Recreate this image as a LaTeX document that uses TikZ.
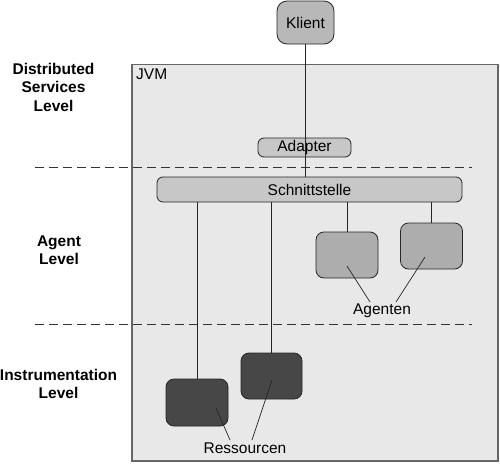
\documentclass[tikz,border=0pt]{standalone}
\usepackage{fontspec}
\setmainfont{Liberation Sans}
\begin{document}
\begin{tikzpicture}[x=1pt,y=-1pt,
  every node/.style={font=\fontsize{15.5}{18}\selectfont},
  rbox/.style={draw=black!85, line width=0.8pt, rounded corners=8pt, inner sep=0pt},
  agentbox/.style={rbox, fill=black!32},
  resbox/.style={rbox, fill=black!72},
  bar/.style={draw=black!85, line width=0.8pt, rounded corners=6pt, fill=black!22, inner sep=0pt},
  conn/.style={draw=black!85, line width=0.7pt},
  sep/.style={draw=black!80, line width=0.8pt, dash pattern=on 9pt off 5pt},
  lvl/.style={font=\bfseries\fontsize{15.5}{18.5}\selectfont, align=center}
]
\useasboundingbox (0,0) rectangle (500,463);
% JVM box
\draw[draw=black!60, line width=1.6pt, fill=black!9] (132,64.5) rectangle (498,461);
\node[anchor=north west, inner sep=0pt] (jvm) at (136,69) {JVM};
% separators
\coordinate (s1a) at (35,167.5); \coordinate (s1b) at (472,167.5);
\coordinate (s2a) at (35,324.5); \coordinate (s2b) at (472,324.5);
\draw[sep] (s1a) -- (s1b);
\draw[sep] (s2a) -- (s2b);
% level labels
\node[lvl] (l1) at (53.5,87) {Distributed\\Services\\Level};
\node[lvl] (l2) at (59,250) {Agent\\Level};
\node[lvl] (l3) at (58.5,384) {Instrumentation\\Level};
% nodes
\node[rbox, fill=black!28, minimum width=57pt, minimum height=43pt, rounded corners=10pt] (klient) at (305.5,22.5) {Klient};
\node[bar, minimum width=93pt, minimum height=19pt] (adapter) at (304.5,147.5) {Adapter};
\node[bar, minimum width=305pt, minimum height=25pt] (schnitt) at (309.5,189.5) {Schnittstelle};
\node[agentbox, minimum width=62pt, minimum height=46pt] (ag1) at (347,255) {};
\node[agentbox, minimum width=62pt, minimum height=46pt] (ag2) at (431.5,246) {};
\node[resbox, minimum width=62pt, minimum height=47pt] (res1) at (197,402.5) {};
\node[resbox, minimum width=61pt, minimum height=46pt] (res2) at (271.5,376) {};
\node[inner sep=1pt] (agenten) at (382,311) {Agenten};
\node[inner sep=1pt] (ressourcen) at (245,448) {Ressourcen};
% connectors
\draw[conn] (klient.south) -- (schnitt.north -| klient.south);
\draw[conn] (schnitt.south -| ag1.north) -- (ag1.north);
\draw[conn] (ag2.north |- schnitt.south) -- (ag2.north);
\draw[conn] (schnitt.south -| res1.north) -- (res1.north);
\draw[conn] (schnitt.south -| res2.north) -- (res2.north);
\coordinate (ag1p) at (347,266);
\coordinate (ag2p) at (425,257);
\coordinate (res1p) at (216,408);
\coordinate (res2p) at (272,380);
\draw[conn] (ag1p) -- (370,302);
\draw[conn] (ag2p) -- (396,302);
\draw[conn] (res1p) -- (230,440);
\draw[conn] (res2p) -- (252,440);
\end{tikzpicture}
\end{document}
